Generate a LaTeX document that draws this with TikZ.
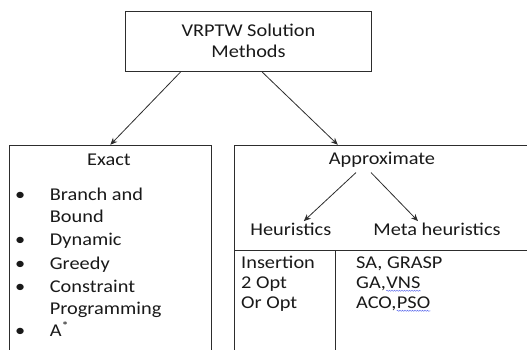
\documentclass[tikz,border=0pt]{standalone}
\usepackage{fontspec}
\setmainfont{Carlito}[FakeStretch=1.13]
\usetikzlibrary{arrows.meta,positioning,decorations.pathmorphing}
\definecolor{lineGray}{RGB}{45,45,45}
\definecolor{textGray}{RGB}{25,25,25}
\definecolor{spellBlue}{RGB}{80,95,235}

\begin{document}
\begin{tikzpicture}[x=1pt, y=-1pt,
        box/.style={rectangle, draw=lineGray, line width=0.9pt, inner sep=0pt},
        link/.style={->, >={Stealth[length=7pt,width=6pt]}, line width=0.8pt, draw=lineGray},
        label/.style={font=\fontsize{18}{21}\selectfont, text=textGray, inner sep=0pt},
        item/.style={label, anchor=base west},
        squiggle/.style={draw=spellBlue, line width=0.4pt, decorate, decoration={snake, amplitude=0.6pt, segment length=2.5pt}}
    ]
        \useasboundingbox (0,0) rectangle (527,349);
        \clip (0,0) rectangle (527,349);

        % Root box
        \node[box, label, align=center, minimum width=245.7pt, minimum height=60.6pt] (root) at (248.5,41.3) {VRPTW Solution\\Methods};

        % Branch boxes (run past the page bottom)
        \node[box, minimum width=201.3pt, minimum height=225pt] (exactbox) at (110.35,257.7) {};
        \node[box, minimum width=310.4pt, minimum height=225pt] (approxbox) at (389.8,257.7) {};

        % Arrows from root
        \draw[link] ([xshift=-68pt]root.south) -- (exactbox.north);
        \draw[link] ([xshift=13.7pt]root.south) -- ([xshift=-52pt]approxbox.north);

        % Exact
        \node[label] (exact) at (109,159.7) {Exact};
        \node[item] (b1) at (15,200.7) {\textbullet};
        \node[item] (e1) at (49.7,200.7) {Branch and};
        \node[item] (e1b) at (49.7,222.7) {Bound};
        \node[item] (b2) at (15,245.3) {\textbullet};
        \node[item] (e2) at (49.7,245.3) {Dynamic};
        \node[item] (b3) at (15,269.3) {\textbullet};
        \node[item] (e3) at (49.7,269.3) {Greedy};
        \node[item] (b4) at (15,292.3) {\textbullet};
        \node[item] (e4) at (49.7,292.3) {Constraint};
        \node[item] (e4b) at (49.7,314.7) {Programming};
        \node[item] (b5) at (15,336.7) {\textbullet};
        \node[item] (e5) at (49.7,336.7) {A\textsuperscript{*}};

        % Approximate
        \node[label] (approx) at (382,159.7) {Approximate};
        \node[label] (heur) at (290.8,229.6) {Heuristics};
        \node[label] (meta) at (437,229.6) {Meta heuristics};
        \draw[link] ([xshift=-26pt,yshift=-5pt]approx.south) -- ([xshift=13pt,yshift=2pt]heur.north);
        \draw[link] ([xshift=-11pt,yshift=-5pt]approx.south) -- ([xshift=-19pt,yshift=2pt]meta.north);

        % Table dividers
        \coordinate (split) at (335.5,250.4);
        \draw[draw=lineGray, line width=0.9pt] (approxbox.west |- split) -- (approxbox.east |- split);
        \draw[draw=lineGray, line width=0.9pt] (split) -- (split |- approxbox.south);

        % Heuristic methods
        \node[item] (h1) at (241,268.3) {Insertion};
        \node[item] (h2) at (241,288.3) {2 Opt};
        \node[item] (h3) at (241,308.3) {Or Opt};

        % Meta heuristic methods
        \node[item] (m1) at (356,268.3) {SA, GRASP};
        \node[item] (m2) at (356,288.3) {GA,};
        \node[item] (vns) at (m2.base east) {VNS};
        \node[item] (m3) at (356,308.3) {ACO,};
        \node[item] (pso) at (m3.base east) {PSO};
        \draw[squiggle] ([yshift=-2.5pt]vns.base west) -- ([yshift=-2.5pt]vns.base east);
        \draw[squiggle] ([yshift=-2.5pt]pso.base west) -- ([yshift=-2.5pt]pso.base east);

    \end{tikzpicture}
\end{document}
